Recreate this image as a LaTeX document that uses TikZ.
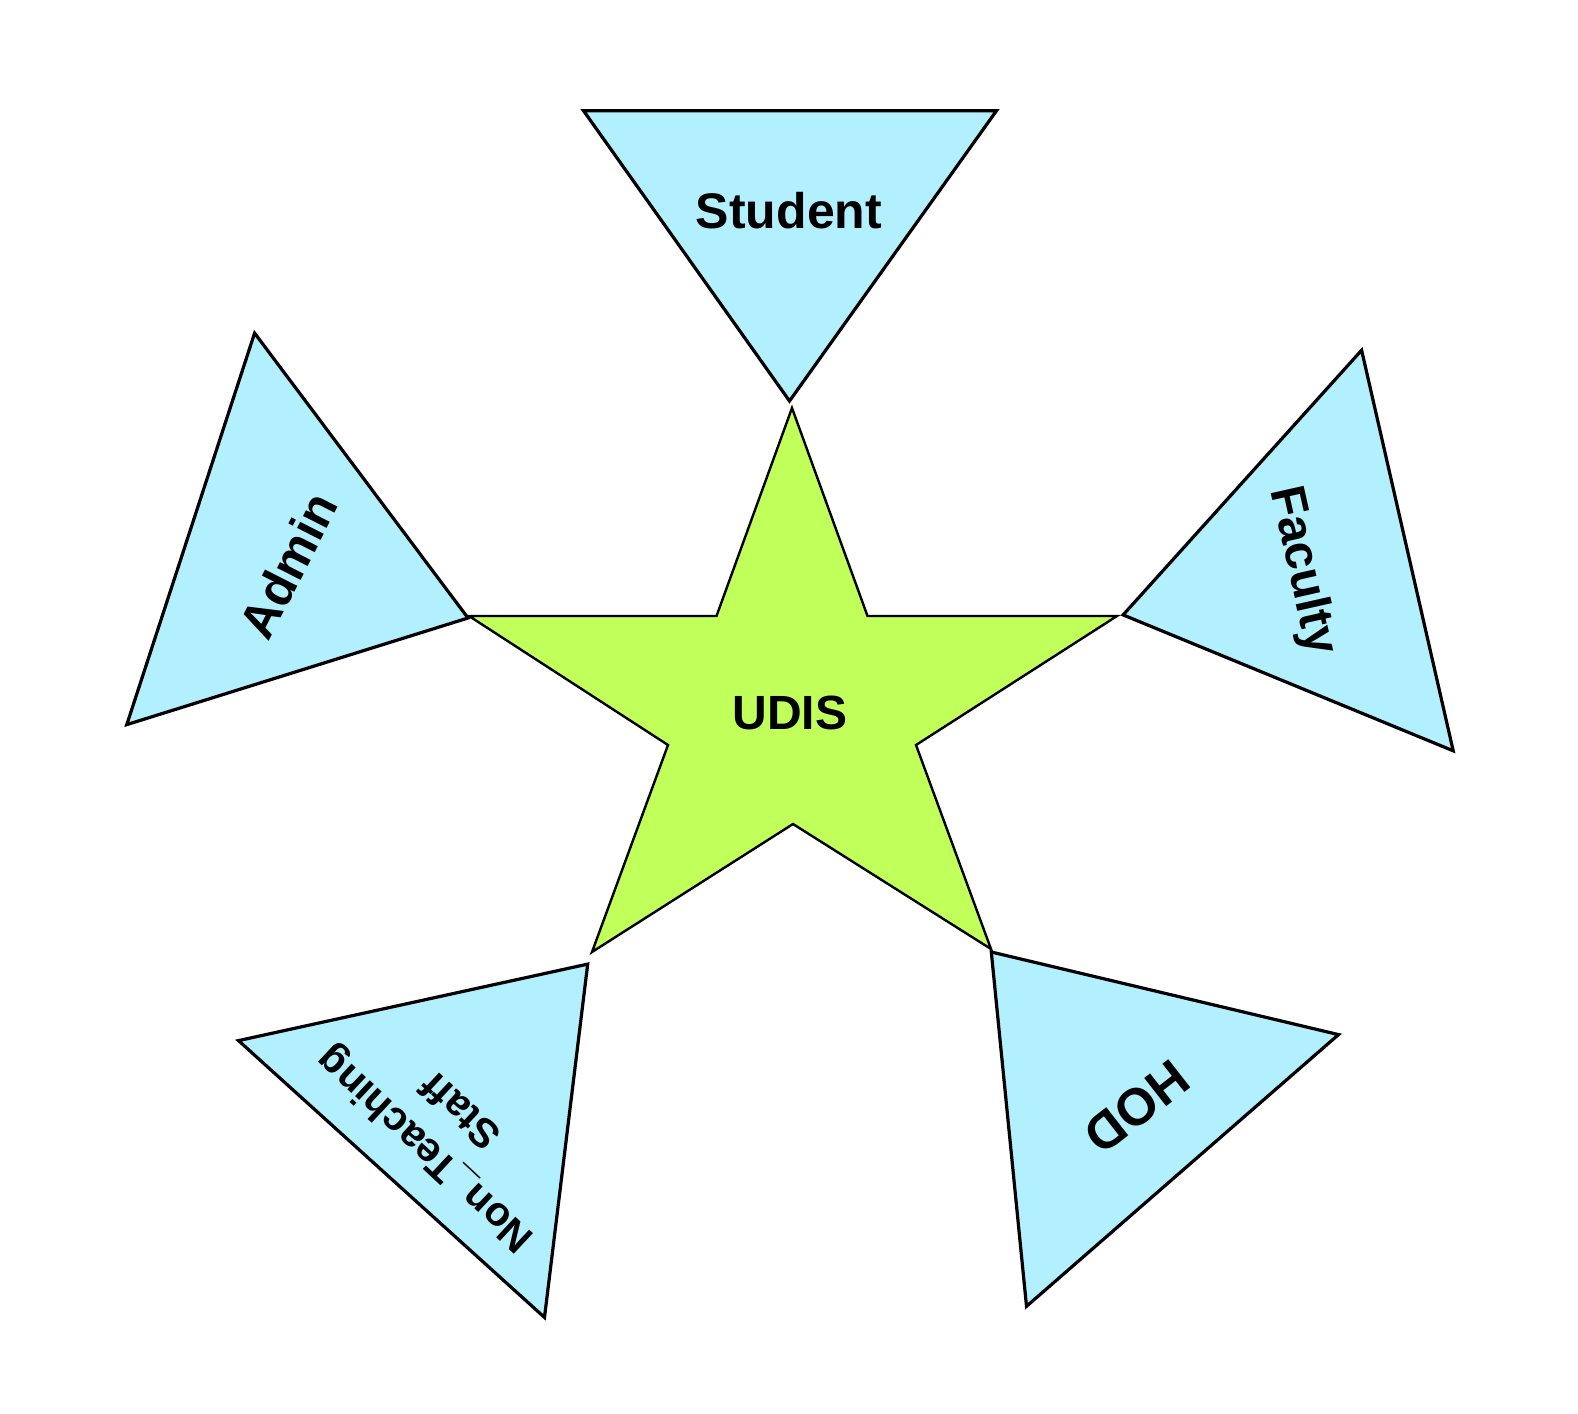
\documentclass[tikz,border=0pt]{standalone}
\usepackage{fontspec}
\setmainfont{Liberation Sans}
\definecolor{tri}{RGB}{179,240,255}
\definecolor{stargreen}{RGB}{193,255,90}
\begin{document}
\begin{tikzpicture}[x=0.5pt,y=-0.5pt,
  tribox/.style={fill=tri,draw=black,line width=1.6pt,line join=miter},
  starbox/.style={fill=stargreen,draw=black,line width=1.2pt,line join=miter},
  lbl/.style={inner sep=0pt,font=\bfseries\fontsize{25}{30}\selectfont}]
\useasboundingbox[fill=white] (0,0) rectangle (1578,1413);
% star points
\coordinate (t1) at (792,408);
\coordinate (i1) at (867.5,616);
\coordinate (t2) at (1117,616);
\coordinate (i2) at (916,745);
\coordinate (t3) at (991,949);
\coordinate (i3) at (793,824);
\coordinate (t4) at (592,952);
\coordinate (i4) at (668,745);
\coordinate (t5) at (469,616);
\coordinate (i5) at (716.5,616);
% triangles
\coordinate (sa) at (583.5,110.7);
\coordinate (sb) at (996.5,110.7);
\coordinate (sc) at (789.5,401);
\coordinate (aa) at (254.6,333.1);
\coordinate (ab) at (468,618);
\coordinate (ac) at (126.8,724.6);
\coordinate (fa) at (1361.6,350.2);
\coordinate (fb) at (1453.2,750.8);
\coordinate (fc) at (1123.1,614.9);
\coordinate (na) at (587.7,964.1);
\coordinate (nb) at (544.5,1317.4);
\coordinate (nc) at (238.5,1040.6);
\coordinate (ha) at (991.3,952);
\coordinate (hb) at (1338.5,1034.6);
\coordinate (hc) at (1026.5,1306.3);
\path[tribox] (sa) -- (sb) -- (sc) -- cycle;
\path[tribox] (aa) -- (ab) -- (ac) -- cycle;
\path[tribox] (fa) -- (fb) -- (fc) -- cycle;
\path[tribox] (na) -- (nb) -- (nc) -- cycle;
\path[tribox] (ha) -- (hb) -- (hc) -- cycle;
\path[starbox] (t1) -- (i1) -- (t2) -- (i2) -- (t3) -- (i3) -- (t4) -- (i4) -- (t5) -- (i5) -- cycle;
% labels
\node[lbl] (student) at (789,211) {Student};
\node[lbl,font=\bfseries\fontsize{24}{28}\selectfont] (udis) at (790,713) {UDIS};
\node[lbl,rotate=63] (admin) at (288.3,565) {Admin};
\node[lbl,font=\bfseries\fontsize{24.5}{28}\selectfont,rotate=-77.3] (faculty) at (1302,571) {Faculty};
\node[lbl,align=center,font=\bfseries\fontsize{20.5}{26.5}\selectfont,rotate=137] (nts) at (441.7,1131.5) {Non\_Teaching\\Staff};
\node[lbl,font=\bfseries\fontsize{26}{30}\selectfont,rotate=-142] (hod) at (1136.7,1106.7) {HOD};
\end{tikzpicture}
\end{document}
